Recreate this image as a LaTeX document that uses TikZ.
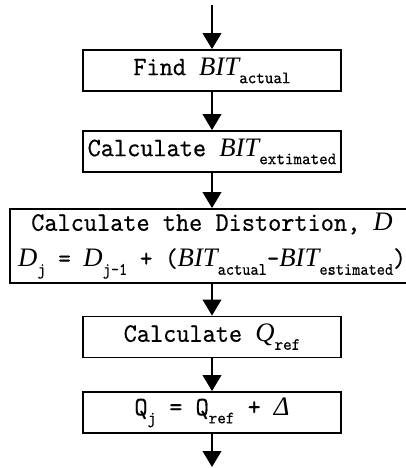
\documentclass[tikz,border=0pt]{standalone}
\usepackage{fontspec}
\setmainfont{Liberation Serif}
\newfontfamily\mono{lmmono10-regular.otf}[FakeStretch=0.94,FakeBold=0.4]
\newfontfamily\monob{lmmono10-regular.otf}[FakeStretch=0.9,FakeBold=0.4]
\usetikzlibrary{arrows.meta}
\newcommand{\vr}[1]{{\rmfamily\itshape #1}}
\newcommand{\sbs}[1]{\raisebox{-0.3em}{\fontsize{13}{13}\selectfont\mono #1}}
\newcommand{\sbt}[1]{\raisebox{-0.3em}{\fontsize{13}{13}\selectfont\monob #1}}
\begin{document}
\begin{tikzpicture}[x=0.75pt,y=-0.75pt,
  box/.style={draw,line width=1.4pt,minimum width=193.5pt,minimum height=30.75pt,inner sep=0pt,
    font=\fontsize{20}{27}\selectfont\mono},
  arr/.style={line width=1.4pt,-{Triangle[length=12pt,width=14pt]}}]
\useasboundingbox (0,0) rectangle (405,468);
\coordinate (top) at (212,5);
\node[box] (b1) at (212,70.5) {Find \vr{BIT}\sbs{actual}};
\node[box] (b2) at (212,151.5) {Calculate \vr{BIT}\sbs{extimated}};
\node[box,minimum width=303pt,minimum height=55.5pt,align=center] (b3) at (212,246)
  {Calculate the Distortion, \vr{D}\\ {\monob\vr{D}\sbt{j} = \vr{D}\sbt{j-1} + (\vr{BIT}\sbt{actual}-\vr{BIT}\sbt{estimated})}};
\node[box] (b4) at (212,337) {Calculate \vr{Q}\sbs{ref}};
\node[box] (b5) at (212,412.5) {Q\sbs{j} = Q\sbs{ref} + \vr{Δ}};
\coordinate (end) at (212,467);
\draw[arr] (top) -- (b1);
\draw[arr] (b1) -- (b2);
\draw[arr] (b2) -- (b3);
\draw[arr] (b3) -- (b4);
\draw[arr] (b4) -- (b5);
\draw[arr] (b5) -- (end);
\end{tikzpicture}
\end{document}
